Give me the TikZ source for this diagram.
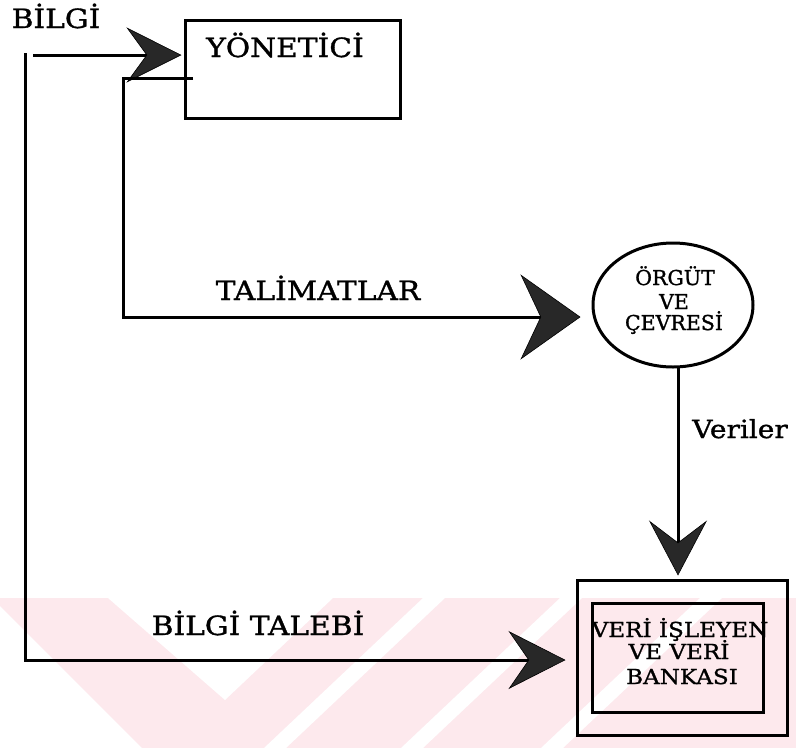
\documentclass[tikz,border=0pt]{standalone}
\usepackage{fontspec}
\setmainfont{DejaVu Serif}[FakeStretch=1.12,FakeBold=1.2]
\newfontfamily\plainserif{DejaVu Serif}[FakeBold=1.2]
\usetikzlibrary{arrows.meta,shapes.geometric,calc}

\definecolor{wmpink}{RGB}{253,233,237}
\definecolor{tipgray}{RGB}{40,40,40}

\begin{document}
\begin{tikzpicture}[x=1pt,y=-1pt,
  conn/.style={line width=3pt},
  frame/.style={draw,line width=3pt,inner sep=0pt},
  big/.style={font=\fontsize{26.5}{30}\selectfont,inner sep=0pt,anchor=base},
  mid/.style={font=\fontsize{25}{30}\selectfont,inner sep=0pt,anchor=base},
  small/.style={font=\fontsize{20.6}{23}\selectfont,inner sep=0pt,anchor=base},
  tiny/.style={font=\plainserif\fontsize{20.5}{23}\selectfont,inner sep=0pt,anchor=base},
  tipsmall/.style={-{Stealth[length=55pt,width=55pt,inset=20pt,line width=0.6pt,fill=tipgray]}},
  tiplarge/.style={-{Stealth[length=60pt,width=85pt,inset=20pt,line width=0.6pt,fill=tipgray]}},
  tipdown/.style={-{Stealth[length=55pt,width=58pt,inset=22pt,line width=0.6pt,fill=tipgray]}},
  tipbank/.style={-{Stealth[length=57pt,width=58pt,inset=20pt,line width=0.6pt,fill=tipgray]}},
 ]
\useasboundingbox (0,0) rectangle (796,748);

% faint striped band along the foot of the page
\fill[wmpink] (0,598) rectangle (796,748);
\fill[white] (0,606) -- (0,748) -- (142,748) -- cycle;
\fill[white] (108,598) -- (333,598) -- (225,700) -- cycle;
\foreach \sx in {423,560,700}
  \fill[white] (\sx,598) -- ({\sx+22},598) -- ({\sx+22-159},748) -- ({\sx-159},748) -- cycle;

% boxes
\node[frame,minimum width=215pt,minimum height=98pt] (yon) at (292.5,69) {};
\node[big] (yonlbl) at (285,57) {YÖNETİCİ};

\node[draw,ellipse,line width=3pt,inner sep=0pt,minimum width=160pt,minimum height=124pt] (org) at (673,305) {};
\node[tiny] (org1) at (675,285) {ÖRGÜT};
\node[tiny] (org2) at (674,309) {VE};
\node[tiny] (org3) at (674,330) {ÇEVRESİ};

\node[frame,minimum width=210pt,minimum height=155pt] (bank) at (682,657.5) {};
\node[frame,minimum width=171pt,minimum height=109pt] (bankin) at (677.5,657.5) {};
\node[small] (bank1) at (680,637) {VERİ İŞLEYEN};
\node[small] (bank2) at (679,659) {VE VERİ};
\node[small] (bank3) at (682,684) {BANKASI};

% labels
\node[big] (lblbilgi) at (56,28) {BİLGİ};
\node[big] (lbltal) at (318,300) {TALİMATLAR};
\node[mid] (lblver) at (740,438) {Veriler};
\node[big] (lbltalep) at (258,635) {BİLGİ TALEBİ};

% connectors
\coordinate (infoin) at (33,55);
\draw[conn,tipsmall,shorten >=2pt] (infoin) -- (yon.west |- infoin);

\coordinate (cmdout) at (193,78);
\coordinate (cmdcorner) at (123,78);
\coordinate (cmdturn) at (123,317);
\draw[conn,tiplarge,shorten >=11pt] (cmdout) -- (cmdcorner) -- (cmdturn) -- (org.west |- cmdturn);

\coordinate (datatop) at (678,367);
\draw[conn,tipdown,shorten >=3pt] (datatop) -- (datatop |- bank.north);

\coordinate (reqtop) at (25,53);
\coordinate (reqturn) at (25,660);
\draw[conn,tipbank,shorten >=10pt] (reqtop) -- (reqturn) -- (bank.west |- reqturn);
\end{tikzpicture}
\end{document}
